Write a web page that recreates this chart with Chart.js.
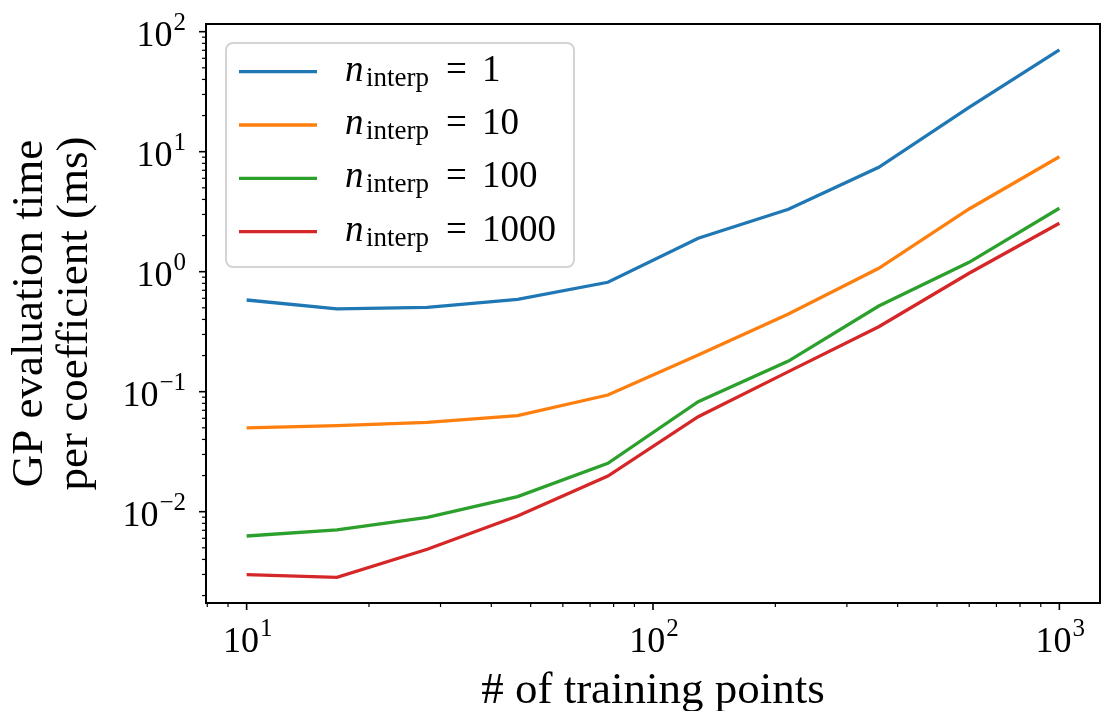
<!DOCTYPE html>
<html>
<head>
<meta charset="utf-8">
<script src="https://cdn.jsdelivr.net/npm/chart.js@4.4.0/dist/chart.umd.min.js"></script>
<style>
    html, body { margin: 0; padding: 0; background: #fff; }
    #wrap { width: 1101px; height: 711px; }
</style>
</head>
<body>
<div id="wrap"><canvas id="chart" width="1101" height="711"></canvas></div>
<script>
const trainingPoints = [10, 16.68, 27.83, 46.42, 77.43, 129.2, 215.4, 359.4, 599.5, 1000];
const nInterp = ['1', '10', '100', '1000'];
const timeInterp1 = [0.581, 0.489, 0.505, 0.589, 0.816, 1.90, 3.31, 7.41, 23.4, 70.4];
const timeInterp10 = [0.0500, 0.0521, 0.0556, 0.0631, 0.0938, 0.202, 0.444, 1.067, 3.33, 9.08];
const timeInterp100 = [0.00627, 0.00704, 0.00898, 0.01334, 0.0253, 0.0826, 0.180, 0.518, 1.197, 3.38];
const timeInterp1000 = [0.00299, 0.00284, 0.00486, 0.0092, 0.0198, 0.0619, 0.147, 0.348, 0.97, 2.53];
const xTickExponents = [1, 2, 3];
const yTickExponents = [-2, -1, 0, 1, 2];

const series = [timeInterp1, timeInterp10, timeInterp100, timeInterp1000];
const lineColors = ['#1f77b4', '#ff7f0e', '#2ca02c', '#d62728'];
const SERIF = '"Liberation Serif", "Times New Roman", serif';

// 10 with a raised exponent, like matplotlib's mathtext labels
function drawPower(ctx, exp, x, y, align) {
    const sup = exp < 0 ? '\u2212' + Math.abs(exp) : String(exp);
    ctx.font = `36px ${SERIF}`;
    const wb = ctx.measureText('10').width;
    ctx.font = `25px ${SERIF}`;
    const ws = ctx.measureText(sup).width;
    const total = wb + 1 + ws;
    const x0 = align === 'center' ? x - total / 2 : x - total;
    ctx.textAlign = 'left';
    ctx.textBaseline = 'alphabetic';
    ctx.font = `36px ${SERIF}`;
    ctx.fillText('10', x0, y);
    ctx.font = `25px ${SERIF}`;
    ctx.fillText(sup, x0 + wb + 1, y - 16);
}

const axesDecor = {
    id: 'axesDecor',
    afterDatasetsDraw(chart) {
        const {ctx, chartArea: a, scales: {x, y}} = chart;
        ctx.save();
        ctx.strokeStyle = '#000';
        ctx.fillStyle = '#000';

        // y ticks, major and minor
        for (let e = -3; e <= 2; e++) {
            for (let m = 1; m <= 9; m++) {
                const py = y.getPixelForValue(m * Math.pow(10, e));
                if (py < a.top - 0.5 || py > a.bottom + 0.5) continue;
                const major = m === 1;
                ctx.lineWidth = major ? 1.6 : 1.2;
                ctx.beginPath();
                ctx.moveTo(a.left, py);
                ctx.lineTo(a.left - (major ? 7 : 4), py);
                ctx.stroke();
            }
        }
        // x ticks, major and minor
        for (let e = 0; e <= 3; e++) {
            for (let m = 1; m <= 9; m++) {
                const px = x.getPixelForValue(m * Math.pow(10, e));
                if (px < a.left - 0.5 || px > a.right + 0.5) continue;
                const major = m === 1;
                ctx.lineWidth = major ? 1.6 : 1.2;
                ctx.beginPath();
                ctx.moveTo(px, a.bottom);
                ctx.lineTo(px, a.bottom + (major ? 7 : 4));
                ctx.stroke();
            }
        }

        yTickExponents.forEach(e => {
            drawPower(ctx, e, a.left - 20, y.getPixelForValue(Math.pow(10, e)) + 14, 'right');
        });
        xTickExponents.forEach(e => {
            drawPower(ctx, e, x.getPixelForValue(Math.pow(10, e)) + 1, a.bottom + 49, 'center');
        });

        // frame
        ctx.lineWidth = 2;
        ctx.strokeRect(a.left, a.top, a.right - a.left, a.bottom - a.top);

        // legend
        const bx = a.left + 20, by = a.top + 19;
        ctx.beginPath();
        ctx.roundRect(bx, by, 348, 224, 7);
        ctx.fillStyle = 'rgba(255,255,255,0.8)';
        ctx.fill();
        ctx.strokeStyle = '#d4d4d4';
        ctx.lineWidth = 2;
        ctx.stroke();

        chart.data.datasets.forEach((ds, i) => {
            const ly = by + 28.7 + i * 53.3;
            ctx.strokeStyle = ds.borderColor;
            ctx.lineWidth = 3.3;
            ctx.beginPath();
            ctx.moveTo(bx + 13, ly);
            ctx.lineTo(bx + 91, ly);
            ctx.stroke();

            const tx = bx + 119, base = ly + 9;
            ctx.fillStyle = '#000';
            ctx.textAlign = 'left';
            ctx.textBaseline = 'alphabetic';
            ctx.font = `italic 37px ${SERIF}`;
            ctx.fillText('n', tx, base);
            ctx.font = `27px ${SERIF}`;
            ctx.fillText('interp', tx + 21, base + 5);
            ctx.font = `37px ${SERIF}`;
            ctx.fillText('=', tx + 101, base);
            ctx.fillText(nInterp[i], tx + 137, base);
        });
        ctx.restore();
    }
};

new Chart(document.getElementById('chart'), {
    type: 'line',
    data: {
        datasets: series.map((vals, i) => ({
            label: `n_interp = ${nInterp[i]}`,
            data: trainingPoints.map((t, k) => ({x: t, y: vals[k]})),
            borderColor: lineColors[i],
            borderWidth: 3.3,
            pointRadius: 0,
            fill: false,
            tension: 0
        }))
    },
    options: {
        responsive: false,
        animation: false,
        layout: {padding: {top: 24, right: 1, left: 0, bottom: 0}},
        plugins: {legend: {display: false}, tooltip: {enabled: false}},
        scales: {
            x: {
                type: 'logarithmic',
                min: 7.943,
                max: 1258.9,
                grid: {display: false},
                border: {display: false},
                ticks: {display: false},
                title: {
                    display: true,
                    text: '# of training points',
                    color: '#000',
                    font: {family: SERIF, size: 45, lineHeight: 0.9},
                    padding: 0
                },
                afterFit: s => { s.height = 108; }
            },
            y: {
                type: 'logarithmic',
                min: 0.001734,
                max: 115.9,
                grid: {display: false},
                border: {display: false},
                ticks: {display: false},
                title: {
                    display: true,
                    text: ['GP evaluation time', 'per coefficient (ms)'],
                    color: '#000',
                    font: {family: SERIF, size: 45, lineHeight: 1.0},
                    padding: {top: 8, bottom: 0}
                },
                afterFit: s => { s.width = 206; }
            }
        }
    },
    plugins: [axesDecor]
});
</script>
</body>
</html>
